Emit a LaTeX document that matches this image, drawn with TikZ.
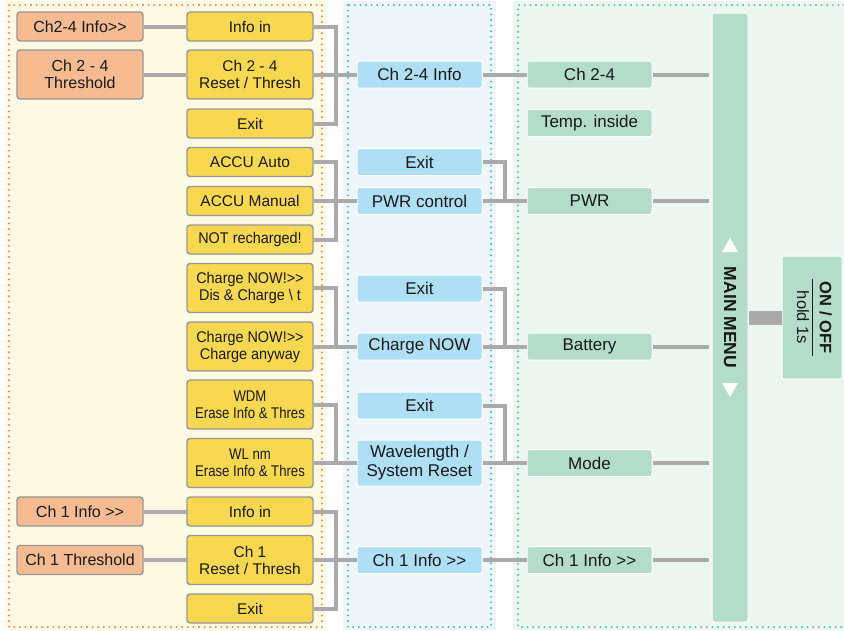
\documentclass[tikz,border=0pt]{standalone}
\usepackage{fontspec}
\setmainfont{Liberation Sans}[Ligatures=TeXOff]
\newfontfamily\narrowa{Liberation Sans}[FakeStretch=0.93, Ligatures=TeXOff]
\newfontfamily\narrowb{Liberation Sans}[FakeStretch=0.85, Ligatures=TeXOff]
\usetikzlibrary{positioning, calc}
\definecolor{menuorange}{RGB}{247,187,146}
\definecolor{menuyellow}{RGB}{248,216,80}
\definecolor{menublue}{RGB}{174,223,245}
\definecolor{menugreen}{RGB}{179,221,200}
\definecolor{panelyellow}{RGB}{252,250,228}
\definecolor{panelblue}{RGB}{238,246,252}
\definecolor{panelgreen}{RGB}{236,245,240}
\definecolor{dotorange}{RGB}{238,128,60}
\definecolor{dotblue}{RGB}{50,180,212}
\definecolor{dotgreen}{RGB}{70,190,175}
\definecolor{boxgray}{RGB}{150,150,150}
\definecolor{linkgray}{RGB}{170,170,170}
\definecolor{textdark}{RGB}{25,25,25}
\tikzset{
  keybox/.style={rectangle, rounded corners=3pt, draw=boxgray, line width=1.4pt, fill=menuorange, minimum width=126pt, minimum height=29pt, inner sep=0pt, align=center, text=textdark, font=\fontsize{16}{17.5}\selectfont},
  subbox/.style={rectangle, rounded corners=3pt, draw=boxgray, line width=1.4pt, fill=menuyellow, minimum width=126pt, minimum height=29pt, inner sep=0pt, align=center, text=textdark, font=\fontsize{15.5}{17}\selectfont},
  menubox/.style={rectangle, rounded corners=2pt, draw=white, line width=1pt, fill=menublue, minimum width=125pt, minimum height=27pt, inner sep=0pt, align=center, text=textdark, font=\fontsize{17}{19}\selectfont},
  mainbox/.style={rectangle, rounded corners=2pt, draw=white, line width=1pt, fill=menugreen, minimum width=125pt, minimum height=27pt, inner sep=0pt, align=center, text=textdark, font=\fontsize{17}{19}\selectfont},
  tall/.style={minimum height=49pt},
  link/.style={draw=linkgray, line width=4pt},
  panel/.style={line width=2.1pt, dash pattern=on 0pt off 5.6pt, line cap=round}
}

\begin{document}
\begin{tikzpicture}[x=1pt, y=-1pt,
  narrow/.style={font=\narrowa\fontsize{15.5}{17}\selectfont},
  narrower/.style={font=\narrowb\fontsize{15.5}{17}\selectfont}]
  \useasboundingbox (0,0) rectangle (844,630);
  % Paneles de fondo
  \fill[panelyellow] (5,1) rectangle (326,630);
  \draw[panel, draw=dotorange] (9,5) rectangle (322,627);
  \fill[panelblue] (343,1) rectangle (496,630);
  \draw[panel, draw=dotblue] (348,5) rectangle (491,627);
  \fill[panelgreen] (513,1) rectangle (844,630);
  \draw[panel, draw=dotgreen] (844,5) -- (518,5) -- (518,627) -- (844,627);
  % Entradas
  \node (kinfo) [keybox] at (80,26.5) {Ch2-4 Info>>};
  \node (kthr) [keybox, tall] at (80,74.5) {Ch 2 - 4\\Threshold};
  \node (k1info) [keybox] at (80,511.5) {Ch 1 Info >>};
  \node (k1thr) [keybox] at (80,560) {Ch 1 Threshold};
  % Submenus
  \node (s1) [subbox] at (250,26.5) {Info in};
  \node (s2) [subbox, tall] at (250,74.5) {Ch 2 - 4\\Reset / Thresh};
  \node (s3) [subbox] at (250,123.5) {Exit};
  \node (s4) [subbox] at (250,162) {ACCU Auto};
  \node (s5) [subbox] at (250,201) {ACCU Manual};
  \node (s6) [subbox, narrow] at (250,239.5) {NOT recharged!};
  \node (s7) [subbox, tall, narrow] at (250,288) {Charge NOW!>>\\Dis \& Charge \textbackslash{} t};
  \node (s8) [subbox, tall, narrow] at (250,346.5) {Charge NOW!>>\\Charge anyway};
  \node (s9) [subbox, tall, narrower] at (250,404.5) {WDM\\Erase Info \& Thres};
  \node (s10) [subbox, tall, narrower] at (250,463) {WL nm\\Erase Info \& Thres};
  \node (s11) [subbox] at (250,511.5) {Info in};
  \node (s12) [subbox, tall] at (250,560) {Ch 1\\Reset / Thresh};
  \node (s13) [subbox] at (250,608.5) {Exit};
  % Menus
  \node (m1) [menubox] at (419.5,74.5) {Ch 2-4 Info};
  \node (m2) [menubox] at (419.5,162) {Exit};
  \node (m3) [menubox] at (419.5,201) {PWR control};
  \node (m4) [menubox] at (419.5,288.5) {Exit};
  \node (m5) [menubox] at (419.5,346.5) {Charge NOW};
  \node (m6) [menubox] at (419.5,405.5) {Exit};
  \node (m7) [menubox, minimum height=46pt] at (419.5,463) {Wavelength /\\System Reset};
  \node (m8) [menubox] at (419.5,560) {Ch 1 Info >>};
  % Menu principal
  \node (g1) [mainbox] at (589.5,74.5) {Ch 2-4};
  \node (g2) [mainbox] at (589.5,123) {Temp. inside};
  \node (g3) [mainbox] at (589.5,201) {PWR};
  \node (g4) [mainbox] at (589.5,346.5) {Battery};
  \node (g5) [mainbox] at (589.5,463) {Mode};
  \node (g6) [mainbox] at (589.5,560) {Ch 1 Info >>};
  \node (menu) [mainbox, minimum width=36pt, minimum height=609pt] at (730,317.5) {};
  \node (menutxt) [rotate=-90, text=textdark, font=\bfseries\fontsize{17.5}{20}\selectfont] at (menu) {MAIN MENU};
  \fill[white] (722,252) -- (738,252) -- (730,238) -- cycle;
  \fill[white] (722,383) -- (738,383) -- (730,397) -- cycle;
  \node (onoff) [mainbox, minimum width=60pt, minimum height=123pt] at (812,317.5) {};
  \node (onofftxt) [rotate=-90, text=textdark, inner sep=0pt, font=\fontsize{16.5}{18}\selectfont] at (onoff)
    {\setlength{\arrayrulewidth}{1.3pt}\begin{tabular}{@{\,}c@{\,}}\textbf{ON / OFF}\\[1pt]\hline\rule{0pt}{15pt}hold 1s\end{tabular}};
  % Conexiones
  \draw[link] (kinfo) -- (s1);
  \draw[link] (kthr) -- (s2);
  \draw[link] (k1info) -- (s11);
  \draw[link] (k1thr) -- (s12);
  \coordinate (j1) at (336,74.5);
  \coordinate (j2) at (336,201);
  \coordinate (j3) at (336,346.5);
  \coordinate (j4) at (336,463);
  \coordinate (j5) at (336,560);
  \draw[link] (s1.east) -| (j1) |- (s3.east);
  \draw[link] (s2.east) -- (m1.west);
  \draw[link] (s4.east) -| (j2) |- (s6.east);
  \draw[link] (s5.east) -- (m3.west);
  \draw[link] (s7.east) -| (j3);
  \draw[link] (s8.east) -- (m5.west);
  \draw[link] (s9.east) -| (j4);
  \draw[link] (s10.east) -- (m7.west);
  \draw[link] (s11.east) -| (j5) |- (s13.east);
  \draw[link] (s12.east) -- (m8.west);
  \coordinate (k2) at (505,201);
  \coordinate (k3) at (505,346.5);
  \coordinate (k4) at (505,463);
  \draw[link] (m1) -- (g1);
  \draw[link] (m2.east) -| (k2);
  \draw[link] (m3) -- (g3);
  \draw[link] (m4.east) -| (k3);
  \draw[link] (m5) -- (g4);
  \draw[link] (m6.east) -| (k4);
  \draw[link] (m7) -- (g5);
  \draw[link] (m8) -- (g6);
  \foreach \g in {g1,g3,g4,g5,g6}
    \draw[link, shorten >=3pt] (\g.east) -- (\g.east -| menu.west);
  \draw[link, line width=14pt] (menu) -- (onoff);
\end{tikzpicture}
\end{document}
